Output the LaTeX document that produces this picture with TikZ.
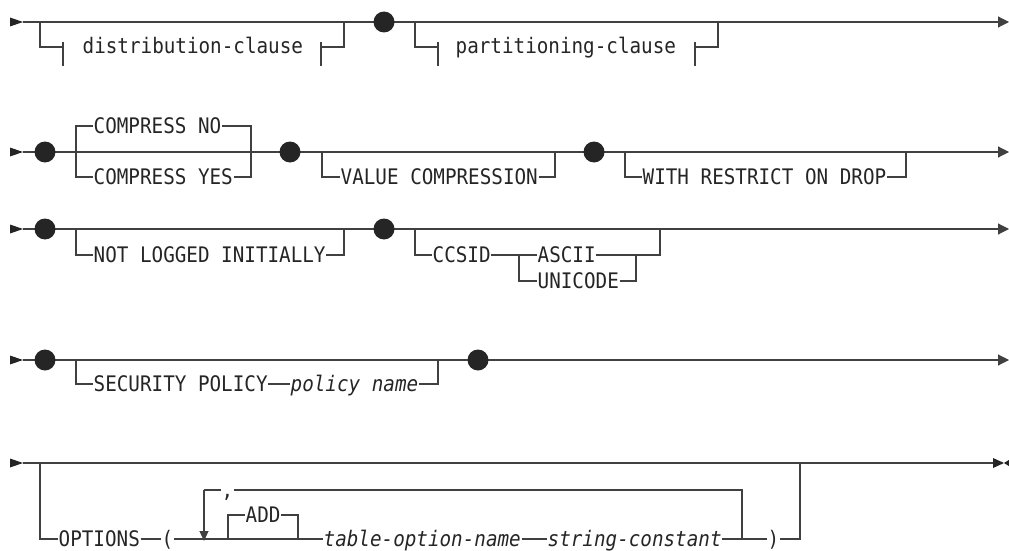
\documentclass[tikz,border=0pt]{standalone}
\usepackage{fontspec}
\usetikzlibrary{arrows.meta}
\newfontfamily\rrmono[FakeStretch=0.9]{DejaVu Sans Mono}
\newcommand\rrfont{\rrmono\fontsize{21.4pt}{22pt}\selectfont}
\definecolor{ink}{HTML}{252525}
\definecolor{wire}{HTML}{404040}
\tikzset{
  rr/.style={line width=1.1pt, draw=wire},
  lbl/.style={font=\rrfont, text=ink, inner xsep=0.5pt, inner ysep=0pt, text height=14pt, text depth=0pt, anchor=west},
  ilbl/.style={lbl, font=\rrfont\itshape},
  dotn/.style={circle, fill=ink, draw=none, inner sep=0pt, minimum size=21pt},
  endarrow/.style={rr, -{Triangle[length=11pt,width=11pt]}},
  tri/.style={fill=ink}
}
\begin{document}
\begin{tikzpicture}[x=1pt,y=-1pt]
\path[use as bounding box] (0,0) rectangle (1009,551);

% ================= Row 1 =================
\coordinate (s1) at (23,22);
\coordinate (e1) at (1009,22);
\fill[tri] (s1) -- ++(-13,-4.5) -- ++(0,9) -- cycle;
\draw[endarrow] (s1) -- (e1);
\coordinate (b1l) at (40,22);
\coordinate (b1r) at (344,22);
\node[lbl] (dist) at (82,47) {distribution-clause};
\coordinate (t1a) at (63,47);
\coordinate (t1b) at (321,47);
\draw[rr] (b1l) |- (t1a);
\draw[rr] (t1a) ++(0,-5) -- ++(0,24);
\draw[rr] (t1b) ++(0,-5) -- ++(0,24);
\draw[rr] (t1b) -| (b1r);
\node[dotn] (d11) at (384,22) {};
\coordinate (p1l) at (415,22);
\coordinate (p1r) at (718,22);
\node[lbl] (part) at (455,47) {partitioning-clause};
\coordinate (t1c) at (438,47);
\coordinate (t1d) at (695,47);
\draw[rr] (p1l) |- (t1c);
\draw[rr] (t1c) ++(0,-5) -- ++(0,24);
\draw[rr] (t1d) ++(0,-5) -- ++(0,24);
\draw[rr] (t1d) -| (p1r);

% ================= Row 2 =================
\coordinate (s2) at (23,152);
\coordinate (e2) at (1009,152);
\fill[tri] (s2) -- ++(-13,-4.5) -- ++(0,9) -- cycle;
\draw[endarrow] (s2) -- (e2);
\node[dotn] (d21) at (45,152) {};
\coordinate (c2l) at (76,152);
\coordinate (c2r) at (251,152);
\node[lbl] (cno) at (93,126) {COMPRESS NO};
\node[lbl] (cyes) at (93,177) {COMPRESS YES};
\draw[rr] (c2l) |- (cno.west);
\draw[rr] (cno.east) -| (c2r);
\draw[rr] (c2l) |- (cyes.west);
\draw[rr] (cyes.east) -| (c2r);
\node[dotn] (d22) at (290,152) {};
\coordinate (v2l) at (322,152);
\coordinate (v2r) at (555,152);
\node[lbl] (valc) at (340,177) {VALUE COMPRESSION};
\draw[rr] (v2l) |- (valc.west);
\draw[rr] (valc.east) -| (v2r);
\node[dotn] (d23) at (594,152) {};
\coordinate (w2l) at (625,152);
\coordinate (w2r) at (906,152);
\node[lbl] (wrod) at (642,177) {WITH RESTRICT ON DROP};
\draw[rr] (w2l) |- (wrod.west);
\draw[rr] (wrod.east) -| (w2r);

% ================= Row 3 =================
\coordinate (s3) at (23,229);
\coordinate (e3) at (1009,229);
\fill[tri] (s3) -- ++(-13,-4.5) -- ++(0,9) -- cycle;
\draw[endarrow] (s3) -- (e3);
\node[dotn] (d31) at (45,229) {};
\coordinate (n3l) at (76,229);
\coordinate (n3r) at (344,229);
\node[lbl] (nli) at (93,255) {NOT LOGGED INITIALLY};
\draw[rr] (n3l) |- (nli.west);
\draw[rr] (nli.east) -| (n3r);
\node[dotn] (d32) at (384,229) {};
\coordinate (c3l) at (415,229);
\coordinate (c3r) at (660,229);
\node[lbl] (ccsid) at (432,255) {CCSID};
\node[lbl] (ascii) at (537,255) {ASCII};
\node[lbl] (unic) at (537,281) {UNICODE};
\coordinate (c3j) at (519,255);
\coordinate (c3k) at (636,255);
\draw[rr] (c3l) |- (ccsid.west);
\draw[rr] (ccsid.east) -- (ascii.west);
\draw[rr] (c3j) |- (unic.west);
\draw[rr] (ascii.east) -- (c3k) -| (c3r);
\draw[rr] (unic.east) -| (c3k);

% ================= Row 4 =================
\coordinate (s4) at (23,360);
\coordinate (e4) at (1009,360);
\fill[tri] (s4) -- ++(-13,-4.5) -- ++(0,9) -- cycle;
\draw[endarrow] (s4) -- (e4);
\node[dotn] (d41) at (45,360) {};
\coordinate (p4l) at (76,360);
\node[lbl] (secp) at (93,384) {SECURITY POLICY};
\node[ilbl] (pname) at (290,384) {policy name};
\coordinate (p4r) at (438,360);
\draw[rr] (p4l) |- (secp.west);
\draw[rr] (secp.east) -- (pname.west);
\draw[rr] (pname.east) -| (p4r);
\node[dotn] (d42) at (478,360) {};

% ================= Row 5 =================
\coordinate (s5) at (23,463);
\coordinate (e5) at (993,463);
\fill[tri] (s5) -- ++(-13,-4.5) -- ++(0,9) -- cycle;
\draw[rr] (s5) -- (e5);
\fill[tri] (1004,463) -- (993,458) -- (993,468) -- cycle;
\fill[tri] (1004,463) -- (1012,458) -- (1012,468) -- cycle;
\coordinate (o5l) at (40,463);
\coordinate (o5r) at (800,463);
\node[lbl] (opts) at (58,539) {OPTIONS};
\node[lbl] (lpar) at (161,539) {(};
\node[ilbl] (tname) at (323,539) {table-option-name};
\node[ilbl] (sconst) at (547,539) {string-constant};
\node[lbl] (rpar) at (767,539) {)};
\node[lbl] (comma) at (221,490) {,};
\node[lbl] (add) at (245,515) {ADD};
\coordinate (lpTL) at (204,490);
\coordinate (lpBL) at (204,539);
\coordinate (lpTR) at (742,490);
\coordinate (lpBR) at (742,539);
\coordinate (adl) at (228,539);
\coordinate (adr) at (298,539);
\draw[rr] (o5l) |- (opts.west);
\draw[rr] (opts.east) -- (lpar.west);
\draw[rr] (lpar.east) -- (tname.west);
\draw[rr] (tname.east) -- (sconst.west);
\draw[rr] (sconst.east) -- (rpar.west);
\draw[rr] (rpar.east) -| (o5r);
\draw[rr] (adl) |- (add.west);
\draw[rr] (add.east) -| (adr);
\draw[rr] (comma.west) -- (lpTL);
\draw[rr, -{Triangle[length=10pt,width=9pt]}] (lpTL) -- ([yshift=-2pt]lpBL);
\draw[rr] (comma.east) -- (lpTR) -- (lpBR);
\end{tikzpicture}
\end{document}
